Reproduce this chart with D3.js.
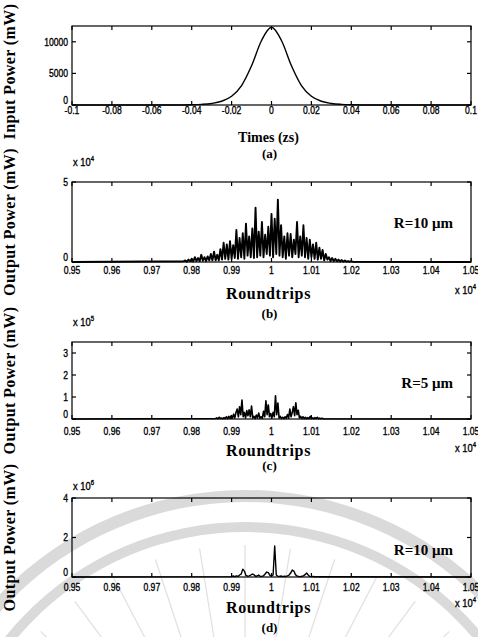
<!DOCTYPE html>
<html>
<head>
<meta charset="utf-8">
<script src="https://cdn.jsdelivr.net/npm/d3@7"></script>
<style>
  body { margin: 0; background: #fff; }
  svg { display: block; }
  .tick-label { font-family: "Liberation Sans", Arial, sans-serif; font-size: 11px; fill: #000; stroke: #000; stroke-width: 0.35px; }
  .serif { font-family: "Liberation Serif", "Times New Roman", serif; font-weight: bold; fill: #000; }
</style>
</head>
<body>
<div id="chart"></div>
<script>
// ---- data ----
var timeTicks = [-0.1, -0.08, -0.06, -0.04, -0.02, 0, 0.02, 0.04, 0.06, 0.08, 0.1];
var timeTickLabels = ["-0.1", "-0.08", "-0.06", "-0.04", "-0.02", "0", "0.02", "0.04", "0.06", "0.08", "0.1"];
var inputTicks = [0, 5000, 10000];
var inputTickLabels = ["0", "5000", "10000"];

// input pulse (a): time (zs) and power (mW)
var pulseTime = [-0.1, -0.05, -0.04, -0.035, -0.03, -0.025, -0.02, -0.015, -0.01, -0.005, 0,
  0.005, 0.01, 0.015, 0.02, 0.025, 0.03, 0.035, 0.04, 0.05, 0.1];
var pulsePower = [0, 5, 40, 100, 245, 590, 1380, 3070, 6200, 10200, 12300,
  10200, 6200, 3070, 1380, 590, 245, 100, 40, 5, 0];

var roundTicks = [9500, 9600, 9700, 9800, 9900, 10000, 10100, 10200, 10300, 10400, 10500];
var roundTickLabels = ["0.95", "0.96", "0.97", "0.98", "0.99", "1", "1.01", "1.02", "1.03", "1.04", "1.05"];

// (b) R=10 um, power in units of 1e4 mW, sampled every 4 roundtrips from 9780
var bStart = 9780, bStep = 4;
var bPower = [0.05, 0.1, 0.02, 0.15, 0.05, 0.2, 0.03, 0.3, 0.05, 0.25, 0.05, 0.45, 0.08, 0.3, 0.05, 0.35,
  0.1, 0.5, 0.1, 0.65, 0.1, 0.45, 0.1, 0.8, 0.15, 1.2, 0.2, 1.1, 0.15, 1.3, 0.2, 1.05,
  0.25, 2.0, 0.2, 1.5, 0.3, 1.8, 0.2, 2.4, 0.4, 1.6, 0.3, 2.1, 0.25, 3.4, 0.3, 1.9,
  0.4, 2.5, 0.3, 1.7, 0.5, 2.2, 0.4, 3.0, 0.3, 2.7, 0.5, 3.9, 0.4, 2.3, 0.3, 1.6,
  0.2, 1.8, 0.4, 1.75, 0.3, 1.4, 0.5, 2.5, 0.3, 1.6, 0.4, 2.3, 0.3, 1.5, 0.2, 1.4,
  0.3, 1.1, 0.2, 1.2, 0.15, 0.9, 0.2, 0.75, 0.1, 0.5, 0.15, 0.3, 0.05, 0.25, 0.05, 0.2,
  0.04, 0.15, 0.03, 0.12, 0.02, 0.1, 0.02, 0.06, 0.01, 0.05, 0.01];

// (c) R=5 um, power in units of 1e5 mW, every 3 roundtrips from 9860
var cStart = 9860, cStep = 3;
var cPower = [0.02, 0.05, 0.01, 0.08, 0.02, 0.04, 0.01, 0.06, 0.02, 0.1, 0.02, 0.12, 0.03, 0.15, 0.04, 0.22,
  0.05, 0.3, 0.45, 0.1, 0.56, 0.2, 0.86, 0.1, 0.3, 0.05, 0.38, 0.15, 0.42, 0.1, 0.59, 0.05,
  0.12, 0.02, 0.18, 0.05, 0.27, 0.04, 0.1, 0.03, 0.35, 0.1, 0.83, 0.2, 0.64, 0.1, 0.25, 0.05,
  0.3, 0.1, 1.05, 0.2, 0.73, 0.05, 0.12, 0.02, 0.08, 0.02, 0.1, 0.03, 0.2, 0.05, 0.45, 0.1,
  0.3, 0.56, 0.15, 0.74, 0.2, 0.4, 0.05, 0.12, 0.02, 0.1, 0.02, 0.08, 0.01, 0.06, 0.02, 0.12,
  0.02, 0.05, 0.01, 0.06, 0.02, 0.08, 0.01, 0.04, 0.01, 0.03, 0.01];

// (d) R=10 um, power in units of 1e6 mW, every 4 roundtrips from 9900
var dStart = 9900, dStep = 4;
var dPower = [0.02, 0.05, 0.02, 0.06, 0.03, 0.1, 0.15, 0.4, 0.3, 0.08, 0.04, 0.06, 0.1, 0.15, 0.12, 0.04,
  0.05, 0.1, 0.03, 0.04, 0.06, 0.15, 0.25, 0.22, 0.08, 0.05, 0.1, 1.57, 0.1, 0.04, 0.03, 0.05,
  0.02, 0.04, 0.03, 0.06, 0.1, 0.2, 0.35, 0.3, 0.12, 0.05, 0.03, 0.02, 0.04, 0.06, 0.12, 0.2,
  0.1, 0.03, 0.02, 0.03, 0.01, 0.02, 0.01, 0.01];

var width = 478, height = 637;
var left = 72, right = 471;

var svg = d3.select("#chart").append("svg")
  .attr("width", width)
  .attr("height", height);

drawWatermark();

function gridSeries(start, step, values) {
  var pts = [[9500, 0]];
  values.forEach(function(v, i) { pts.push([start + i * step, v]); });
  pts.push([10500, 0]);
  return pts;
}

// narrow sans text, like the condensed MATLAB tick font
function tickText(g, x, y, anchor, str) {
  return g.append("text").attr("class", "tick-label")
    .attr("transform", "translate(" + x + "," + y + ") scale(0.78,1)")
    .attr("text-anchor", anchor)
    .attr("dominant-baseline", "central")
    .text(str);
}

var panels = [
  {
    top: 26, bottom: 105,
    xDomain: [-0.1, 0.1], xTicks: timeTicks, xLabels: timeTickLabels,
    yDomain: [0, 12500], yTicks: inputTicks, yLabels: inputTickLabels,
    data: pulseTime.map(function(t, i) { return [t, pulsePower[i]]; }),
    smooth: true, labelShift: 6,
    ylabel: "Input Power (mW)", xlabel: "Times (zs)", xlabelSize: 14, xlabelSpacing: 0,
    xlabelY: 137, capY: 153, cap: "(a)", tickY: 110
  },
  {
    top: 182, bottom: 262,
    xDomain: [9500, 10500], xTicks: roundTicks, xLabels: roundTickLabels,
    yDomain: [0, 5], yTicks: [0, 5], yLabels: ["0", "5"],
    data: gridSeries(bStart, bStep, bPower), width: 1.9,
    ylabel: "Output Power (mW)", xlabel: "Roundtrips", xlabelSize: 16, xlabelSpacing: 0.7,
    xlabelY: 293, capY: 313, cap: "(b)", tickY: 270,
    expTop: "4", expY: 166, expRightY: 294, note: "R=10 \u03bcm", noteY: 223
  },
  {
    top: 342, bottom: 419,
    xDomain: [9500, 10500], xTicks: roundTicks, xLabels: roundTickLabels,
    yDomain: [0, 3.5], yTicks: [0, 1, 2, 3], yLabels: ["0", "1", "2", "3"],
    data: gridSeries(cStart, cStep, cPower), width: 1.6,
    ylabel: "Output Power (mW)", xlabel: "Roundtrips", xlabelSize: 16, xlabelSpacing: 0.7,
    xlabelY: 450, capY: 465, cap: "(c)", tickY: 431,
    expTop: "5", expY: 326, expRightY: 452, note: "R=5 \u03bcm", noteY: 383
  },
  {
    top: 498, bottom: 577,
    xDomain: [9500, 10500], xTicks: roundTicks, xLabels: roundTickLabels,
    yDomain: [0, 4], yTicks: [0, 2, 4], yLabels: ["0", "2", "4"],
    data: gridSeries(dStart, dStep, dPower), width: 1.4,
    ylabel: "Output Power (mW)", xlabel: "Roundtrips", xlabelSize: 16, xlabelSpacing: 0.7,
    xlabelY: 607, capY: 627, cap: "(d)", tickY: 587,
    expTop: "6", expY: 490, expRightY: 607, note: "R=10 \u03bcm", noteY: 550
  }
];

panels.forEach(drawPanel);

function drawPanel(p) {
  var x = d3.scaleLinear().domain(p.xDomain).range([left, right]);
  var y = d3.scaleLinear().domain(p.yDomain).range([p.bottom, p.top]);
  var g = svg.append("g");
  var tickLen = 4;

  // data line
  var line = d3.line()
    .x(function(d) { return x(d[0]); })
    .y(function(d) { return y(d[1]); });
  if (p.smooth) line.curve(d3.curveMonotoneX);
  g.append("path")
    .datum(p.data)
    .attr("fill", "none")
    .attr("stroke", "#000")
    .attr("stroke-width", p.width || 1.4)
    .attr("stroke-linejoin", "round")
    .attr("d", line);

  // box
  g.append("rect")
    .attr("x", left).attr("y", p.top)
    .attr("width", right - left).attr("height", p.bottom - p.top)
    .attr("fill", "none").attr("stroke", "#000").attr("stroke-width", 1.2);

  // x ticks (bottom and top, pointing in)
  p.xTicks.forEach(function(t, i) {
    var xx = x(t);
    g.append("line").attr("x1", xx).attr("x2", xx)
      .attr("y1", p.bottom).attr("y2", p.bottom - tickLen)
      .attr("stroke", "#000").attr("stroke-width", 1.2);
    g.append("line").attr("x1", xx).attr("x2", xx)
      .attr("y1", p.top).attr("y2", p.top + tickLen)
      .attr("stroke", "#000").attr("stroke-width", 1.2);
    tickText(g, xx, p.tickY, "middle", p.xLabels[i]);
  });

  // y ticks (left and right)
  p.yTicks.forEach(function(t, i) {
    var yy = y(t);
    g.append("line").attr("x1", left).attr("x2", left + tickLen)
      .attr("y1", yy).attr("y2", yy)
      .attr("stroke", "#000").attr("stroke-width", 1.2);
    g.append("line").attr("x1", right).attr("x2", right - tickLen)
      .attr("y1", yy).attr("y2", yy)
      .attr("stroke", "#000").attr("stroke-width", 1.2);
    tickText(g, left - 4, i === 0 ? yy - 5 : yy, "end", p.yLabels[i]);
  });

  // exponent labels
  if (p.expTop) {
    var e1 = g.append("text").attr("class", "tick-label")
      .attr("transform", "translate(" + (left + 1) + "," + p.expY + ") scale(0.85,1)")
      .attr("font-size", "10px");
    e1.append("tspan").text("x 10");
    e1.append("tspan").attr("dy", -5).attr("font-size", "7px").text(p.expTop);

    var e2 = g.append("text").attr("class", "tick-label")
      .attr("transform", "translate(476," + p.expRightY + ") scale(0.85,1)")
      .attr("text-anchor", "end")
      .attr("font-size", "10px");
    e2.append("tspan").text("x 10");
    e2.append("tspan").attr("dy", -5).attr("font-size", "7px").text("4");
  }

  if (p.note) {
    g.append("text").attr("class", "serif")
      .attr("x", 453).attr("y", p.noteY)
      .attr("text-anchor", "end").attr("dominant-baseline", "central")
      .attr("font-size", "15px")
      .text(p.note);
  }

  // axis label, caption
  g.append("text").attr("class", "serif")
    .attr("x", (left + right) / 2 - 3).attr("y", p.xlabelY)
    .attr("text-anchor", "middle").attr("dominant-baseline", "central")
    .attr("font-size", p.xlabelSize + "px")
    .attr("letter-spacing", p.xlabelSpacing)
    .text(p.xlabel);
  g.append("text").attr("class", "serif")
    .attr("x", (left + right) / 2 - 2).attr("y", p.capY)
    .attr("text-anchor", "middle").attr("dominant-baseline", "central")
    .attr("font-size", "13px")
    .text(p.cap);

  // rotated y label
  var cy = (p.top + p.bottom) / 2 + (p.labelShift || 0);
  g.append("text").attr("class", "serif")
    .attr("transform", "translate(9," + cy + ") rotate(-90)")
    .attr("text-anchor", "middle").attr("dominant-baseline", "central")
    .attr("font-size", "16px")
    .attr("letter-spacing", 0.4)
    .text(p.ylabel);
}

function drawWatermark() {
  var wm = svg.append("g").attr("opacity", 0.55);
  var cx = 245, cy = 830;
  var arc = d3.arc().startAngle(-1.6).endAngle(1.6);
  wm.append("path")
    .attr("transform", "translate(" + cx + "," + cy + ")")
    .attr("d", arc.innerRadius(328).outerRadius(340)())
    .attr("fill", "#bdbdbd");
  wm.append("path")
    .attr("transform", "translate(" + cx + "," + cy + ")")
    .attr("d", arc.innerRadius(298).outerRadius(308)())
    .attr("fill", "#bdbdbd");
  d3.range(-6, 7).forEach(function(k) {
    var a = k * 0.16;
    wm.append("line")
      .attr("x1", cx + 150 * Math.sin(a)).attr("y1", cy - 150 * Math.cos(a))
      .attr("x2", cx + 285 * Math.sin(a)).attr("y2", cy - 285 * Math.cos(a))
      .attr("stroke", "#c8c8c8").attr("stroke-width", 1.2);
  });
}
</script>
</body>
</html>
